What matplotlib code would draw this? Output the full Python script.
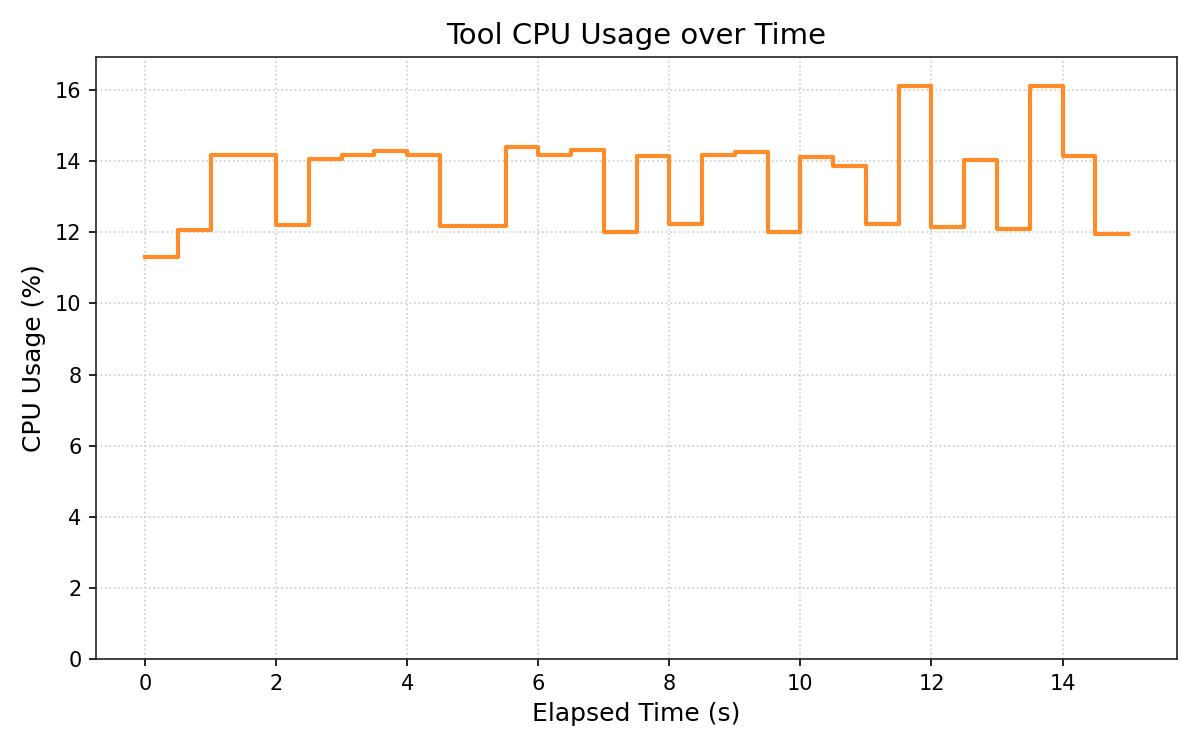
import matplotlib
matplotlib.use("Agg")
import matplotlib.pyplot as plt
import numpy as np

elapsed_time = [0.0, 0.5, 1.0, 1.5, 2.0, 2.5, 3.0, 3.5, 4.0, 4.5, 5.0, 5.5, 6.0, 6.5, 7.0, 7.5,
                8.0, 8.5, 9.0, 9.5, 10.0, 10.5, 11.0, 11.5, 12.0, 12.5, 13.0, 13.5, 14.0, 14.5, 15.0]
cpu_usage = [11.30, 12.05, 14.18, 14.18, 12.21, 14.06, 14.17, 14.28, 14.18, 12.17, 12.17, 14.39,
             14.17, 14.32, 12.00, 14.14, 12.23, 14.16, 14.26, 12.00, 14.11, 13.86, 12.23, 16.12,
             12.15, 14.03, 12.08, 16.12, 14.14, 11.94, 11.94]

fig, ax = plt.subplots(figsize=(8, 5), dpi=150)
fig.subplots_adjust(left=0.08, right=0.981, bottom=0.121, top=0.924)

ax.plot(elapsed_time, cpu_usage, drawstyle="steps-post", color="#FF8C28", linewidth=2.0)
ymax = max(cpu_usage)
ax.set_ylim(0, ymax * 1.05)
ax.set_title("Tool CPU Usage over Time", fontsize=14)
ax.set_xlabel("Elapsed Time (s)", fontsize=12)
ax.set_ylabel("CPU Usage (%)", fontsize=12)
ax.grid(True, linestyle=":", color="#cccccc", linewidth=0.8)
for s in ax.spines.values():
    s.set_color("#222222")

fig.savefig("out.png", dpi=150)
